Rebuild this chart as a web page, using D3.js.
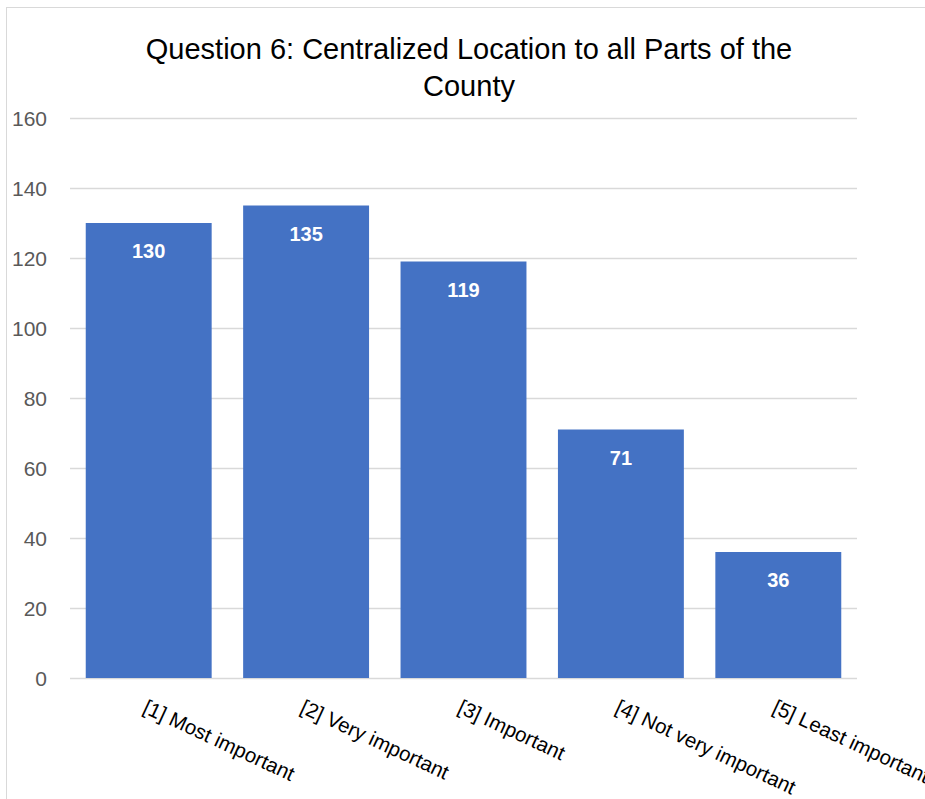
<!DOCTYPE html>
<html><head><meta charset="utf-8">
<script src="https://cdn.jsdelivr.net/npm/d3@7"></script>
<style>html,body{margin:0;padding:0;background:#fff;}svg{display:block;}</style>
</head><body>
<script>
const titleLines = ["Question 6: Centralized Location to all Parts of the", "County"];
const categories = ["[1] Most important", "[2] Very important", "[3] Important", "[4] Not very important", "[5] Least important"];
const values = [130, 135, 119, 71, 36];
const yTicks = [0, 20, 40, 60, 80, 100, 120, 140, 160];

const W = 925, H = 799;
const font = "'Liberation Sans', Arial, sans-serif";
const svg = d3.select("body").append("svg").attr("width", W).attr("height", H);

svg.append("rect").attr("x", 6.5).attr("y", 7.5).attr("width", W + 10).attr("height", H + 10)
  .attr("fill", "#fff").attr("stroke", "#D9D9D9").attr("stroke-width", 1);

const x = d3.scaleBand().domain(categories).range([70, 857]).paddingInner(0.2).paddingOuter(0.1);
const y = d3.scaleLinear().domain([0, 160]).range([678, 118]);

// gridlines
svg.append("g").selectAll("line").data(yTicks).join("line")
  .attr("x1", 70).attr("x2", 857)
  .attr("y1", d => y(d) + 0.5).attr("y2", d => y(d) + 0.5)
  .attr("stroke", "#D9D9D9").attr("stroke-width", 1.3);

// y axis labels
const yAxis = d3.axisLeft(y).tickValues(yTicks).tickSize(0).tickPadding(0);
const ya = svg.append("g").attr("transform", "translate(47,0)").call(yAxis);
ya.select(".domain").remove();
ya.selectAll("text").attr("font-family", font).attr("font-size", 21).attr("fill", "#595959").attr("dy", "0.35em");

// bars
svg.append("g").selectAll("rect").data(values).join("rect")
  .attr("x", (d, i) => x(categories[i])).attr("width", x.bandwidth())
  .attr("y", d => y(d)).attr("height", d => y(0) - y(d))
  .attr("fill", "#4472C4");

// value labels
svg.append("g").selectAll("text").data(values).join("text")
  .attr("x", (d, i) => x(categories[i]) + x.bandwidth() / 2)
  .attr("y", d => y(d) + 35)
  .attr("text-anchor", "middle").attr("font-family", font).attr("font-weight", "bold")
  .attr("font-size", 20).attr("fill", "#fff").text(d => d);

// category labels
svg.append("g").selectAll("text").data(categories).join("text")
  .attr("transform", d => `translate(${x(d) + x.bandwidth() / 2 - 7},${y(0) + 34}) rotate(25)`)
  .attr("font-family", font).attr("font-size", 20.5).attr("fill", "#000").text(d => d);

// title
svg.append("g").selectAll("text").data(titleLines).join("text")
  .attr("x", 469).attr("y", (d, i) => 59 + i * 37)
  .attr("text-anchor", "middle").attr("font-family", font).attr("font-size", 29)
  .attr("fill", "#000").text(d => d);
</script>
</body></html>
